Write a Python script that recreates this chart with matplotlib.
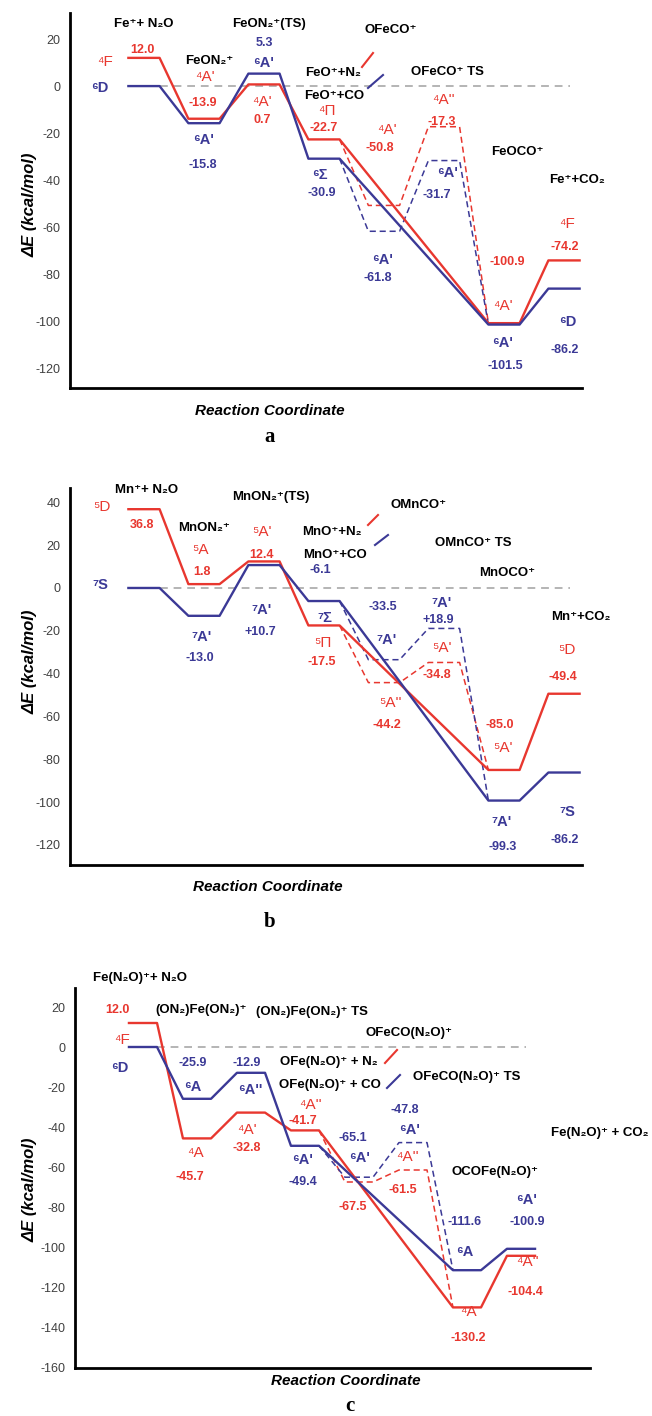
import matplotlib
matplotlib.use("Agg")
import matplotlib.pyplot as plt
from matplotlib.lines import Line2D

W, H = 652, 1416
RED = "#e8372f"
BLUE = "#3b3996"
GRAY = "#b4b4b4"
SANS = ["Liberation Sans", "DejaVu Sans"]
plt.rcParams["font.family"] = SANS

# ---------------- data ----------------
# reaction-coordinate stage of each solid level; dashed (alternative path) stages
solid_stages = [0, 1, 2, 3, 6, 7]
dash_stages = [4, 5]

# (a) Fe+ + N2O + CO
a_red = [12.0, -13.9, 0.7, -22.7, -100.9, -74.2]      # quartet
a_blue = [0.0, -15.8, 5.3, -30.9, -101.5, -86.2]      # sextet
a_red_dash = [-50.8, -17.3]
a_blue_dash = [-61.8, -31.7]
a_species = ["Fe⁺+ N₂O", "FeON₂⁺(TS)", "FeON₂⁺", "OFeCO⁺", "FeO⁺+N₂",
             "FeO⁺+CO", "OFeCO⁺ TS", "FeOCO⁺", "Fe⁺+CO₂"]
a_red_states = ["⁴F", "⁴A'", "⁴A'", "⁴Π", "⁴A'", "⁴A''", "⁴A'", "⁴F"]
a_blue_states = ["⁶D", "⁶A'", "⁶A'", "⁶Σ", "⁶A'", "⁶A'", "⁶A'", "⁶D"]

# (b) Mn+ + N2O + CO
b_red = [36.8, 1.8, 12.4, -17.5, -85.0, -49.4]        # quintet
b_blue = [0.0, -13.0, 10.7, -6.1, -99.3, -86.2]       # septet
b_red_dash = [-44.2, -34.8]
b_blue_dash = [-33.5, -18.9]
b_blue_text = ["", "-13.0", "+10.7", "-6.1", "-99.3", "-86.2"]
b_blue_dash_text = ["-33.5", "+18.9"]
b_species = ["Mn⁺+ N₂O", "MnON₂⁺(TS)", "MnON₂⁺", "OMnCO⁺", "MnO⁺+N₂",
             "MnO⁺+CO", "OMnCO⁺ TS", "MnOCO⁺", "Mn⁺+CO₂"]
b_red_states = ["⁵D", "⁵A", "⁵A'", "⁵Π", "⁵A''", "⁵A'", "⁵A'", "⁵D"]
b_blue_states = ["⁷S", "⁷A'", "⁷A'", "⁷Σ", "⁷A'", "⁷A'", "⁷A'", "⁷S"]

# (c) Fe(N2O)+ + N2O + CO
c_red = [12.0, -45.7, -32.8, -41.7, -130.2, -104.4]   # quartet
c_blue = [0.0, -25.9, -12.9, -49.4, -111.6, -100.9]   # sextet
c_red_dash = [-67.5, -61.5]
c_blue_dash = [-65.1, -47.8]
c_species = ["Fe(N₂O)⁺+ N₂O", "(ON₂)Fe(ON₂)⁺", "(ON₂)Fe(ON₂)⁺ TS", "OFeCO(N₂O)⁺",
             "OFe(N₂O)⁺ + N₂", "OFe(N₂O)⁺ + CO", "OFeCO(N₂O)⁺ TS", "OCOFe(N₂O)⁺",
             "Fe(N₂O)⁺ + CO₂"]
c_red_states = ["⁴F", "⁴A", "⁴A'", "⁴A''", "⁴A''", "⁴A", "⁴A''"]
c_blue_states = ["⁶D", "⁶A", "⁶A''", "⁶A'", "⁶A'", "⁶A'", "⁶A", "⁶A'"]

# ---------------- layout (pixel positions of labels) ----------------
a_species_pos = [(144, 24), (269, 24), (209, 61), (391, 30), (333, 73),
                 (334, 96), (447, 72), (517, 152), (577, 180)]
a_red_state_pos = [(105, 62), (205, 77), (262, 102), (327, 111), (387, 130),
                   (443, 100), (503, 306), (567, 224)]
a_blue_state_pos = [(100, 88), (204, 140), (264, 63), (320, 175), (383, 260),
                    (448, 173), (503, 343), (568, 322)]
a_red_val_pos = [(142, 50), (203, 103), (262, 120), (324, 128), (507, 262), (565, 247)]
a_blue_val_pos = [None, (203, 165), (264, 43), (322, 193), (505, 366), (565, 350)]
a_red_dash_pos = [(380, 148), (442, 122)]
a_blue_dash_pos = [(378, 278), (437, 195)]

b_species_pos = [(147, 490), (271, 497), (204, 528), (419, 505), (332, 532),
                 (335, 555), (473, 543), (507, 573), (581, 617)]
b_red_state_pos = [(102, 507), (200, 550), (262, 532), (323, 643), (390, 703),
                   (442, 648), (503, 748), (567, 650)]
b_blue_state_pos = [(100, 585), (202, 637), (262, 610), (325, 618), (387, 640),
                    (442, 603), (502, 822), (567, 812)]
b_red_val_pos = [(142, 525), (202, 572), (261, 555), (322, 662), (500, 725), (563, 677)]
b_blue_val_pos = [None, (200, 658), (260, 632), (320, 570), (503, 847), (565, 840)]
b_red_dash_pos = [(387, 725), (437, 675)]
b_blue_dash_pos = [(383, 607), (438, 620)]

c_species_pos = [(140, 978), (201, 1010), (312, 1012), (409, 1033), (329, 1062),
                 (330, 1085), (467, 1077), (495, 1172), (600, 1133)]
c_red_state_pos = [(122, 1040), (195, 1153), (247, 1130), (310, 1105),
                   (407, 1157), (468, 1312), (527, 1262)]
c_blue_state_pos = [(120, 1068), (193, 1087), (250, 1090), (303, 1160),
                    (360, 1158), (410, 1130), (465, 1252), (527, 1200)]
c_red_val_pos = [(117, 1010), (190, 1177), (247, 1148), (303, 1121), (468, 1338), (525, 1292)]
c_blue_val_pos = [None, (193, 1063), (247, 1063), (303, 1182), (465, 1222), (527, 1222)]
c_red_dash_pos = [(353, 1207), (403, 1190)]
c_blue_dash_pos = [(353, 1138), (405, 1110)]

fig = plt.figure(figsize=(W / 100, H / 100), dpi=100)


def fpos(x, y):
    return x / W, 1 - y / H


def put(x, y, s, color="black", size=9, weight="bold", **kw):
    fig.text(*fpos(x, y), s, color=color, fontsize=size, fontweight=weight,
             ha="center", va="center", family=SANS, **kw)


def add_panel(l, r, t, b, xlim, ylim, yticks):
    ax = fig.add_axes([l / W, 1 - b / H, (r - l) / W, (b - t) / H])
    ax.set_xlim(*xlim)
    ax.set_ylim(*ylim)
    for s in ("top", "right"):
        ax.spines[s].set_visible(False)
    for s in ("left", "bottom"):
        ax.spines[s].set_linewidth(2.0)
    ax.set_xticks([])
    ax.set_yticks(yticks)
    ax.set_yticklabels([str(v) for v in yticks])
    ax.tick_params(axis="y", length=0, pad=7, labelsize=9, labelcolor="#404040")
    ax.patch.set_alpha(0)
    return ax


def level_path(stages, values, hw):
    xs, ys = [], []
    for s, v in zip(stages, values):
        xs += [s - hw, s + hw]
        ys += [v, v]
    return xs, ys


def draw(ax, red, blue, red_d, blue_d, hw=0.26):
    ax.plot([hw, 7.1], [0, 0], ls=(0, (4, 3)), color=GRAY, lw=1.4, zorder=1)
    for vals, dvals, c in ((red, red_d, RED), (blue, blue_d, BLUE)):
        pv = [vals[3]] + dvals + [vals[4]]
        xs, ys = level_path([3] + dash_stages + [6], pv, hw)
        ax.plot(xs[1:-1], ys[1:-1], color=c, lw=1.1, ls=(0, (4, 2.5)), zorder=2)
    for vals, c in ((red, RED), (blue, BLUE)):
        xs, ys = level_path(solid_stages, vals, hw)
        ax.plot(xs, ys, color=c, lw=1.7, zorder=3)


def labels(species, sp_pos, rst, rst_pos, bst, bst_pos,
           red, red_pos, blue, blue_pos, red_d, red_d_pos, blue_d, blue_d_pos,
           blue_text=None, blue_d_text=None):
    for s, (x, y) in zip(species, sp_pos):
        put(x, y, s, "black", 9.5)
    for s, (x, y) in zip(rst, rst_pos):
        put(x, y, s, RED, 11, weight="normal")
    for s, (x, y) in zip(bst, bst_pos):
        put(x, y, s, BLUE, 10.5)
    for v, p in zip(red, red_pos):
        put(*p, f"{v:.1f}", RED, 9)
    for i, (v, p) in enumerate(zip(blue, blue_pos)):
        if p is None:
            continue
        put(*p, blue_text[i] if blue_text else f"{v:.1f}", BLUE, 9)
    for v, p in zip(red_d, red_d_pos):
        put(*p, f"{v:.1f}", RED, 9)
    for i, (v, p) in enumerate(zip(blue_d, blue_d_pos)):
        put(*p, blue_d_text[i] if blue_d_text else f"{v:.1f}", BLUE, 9)


def slash(x0, y0, x1, y1, color):
    fig.add_artist(Line2D([x0 / W, x1 / W], [1 - y0 / H, 1 - y1 / H],
                          transform=fig.transFigure, color=color, lw=1.5))


# ---- panel a ----
ax_a = add_panel(70, 582, 13, 388, (-1.233, 7.3), (-128.5, 31.1),
                 [20, 0, -20, -40, -60, -80, -100, -120])
draw(ax_a, a_red, a_blue, a_red_dash, a_blue_dash)
labels(a_species, a_species_pos, a_red_states, a_red_state_pos,
       a_blue_states, a_blue_state_pos, a_red, a_red_val_pos, a_blue, a_blue_val_pos,
       a_red_dash, a_red_dash_pos, a_blue_dash, a_blue_dash_pos)
slash(362, 67, 373, 53, RED)
slash(368, 88, 383, 75, BLUE)

# ---- panel b ----
ax_b = add_panel(70, 582, 488, 865, (-1.233, 7.3), (-129.4, 46.7),
                 [40, 20, 0, -20, -40, -60, -80, -100, -120])
draw(ax_b, b_red, b_blue, b_red_dash, b_blue_dash)
labels(b_species, b_species_pos, b_red_states, b_red_state_pos,
       b_blue_states, b_blue_state_pos, b_red, b_red_val_pos, b_blue, b_blue_val_pos,
       b_red_dash, b_red_dash_pos, b_blue_dash, b_blue_dash_pos,
       blue_text=b_blue_text, blue_d_text=b_blue_dash_text)
slash(368, 525, 378, 515, RED)
slash(375, 545, 388, 535, BLUE)

# ---- panel c ----
ax_c = add_panel(75, 590, 988, 1368, (-1.259, 8.278), (-160.5, 29.5),
                 [20, 0, -20, -40, -60, -80, -100, -120, -140, -160])
draw(ax_c, c_red, c_blue, c_red_dash, c_blue_dash)
labels(c_species, c_species_pos, c_red_states, c_red_state_pos,
       c_blue_states, c_blue_state_pos, c_red, c_red_val_pos, c_blue, c_blue_val_pos,
       c_red_dash, c_red_dash_pos, c_blue_dash, c_blue_dash_pos)
slash(385, 1063, 397, 1050, RED)
slash(387, 1088, 400, 1075, BLUE)

# axis titles and panel letters
for yc in (205, 662, 1190):
    put(30, yc, "ΔE (kcal/mol)", "black", 12, rotation=90, style="italic")
for xc, yc in ((270, 411), (268, 887), (346, 1381)):
    put(xc, yc, "Reaction Coordinate", "black", 11, style="italic")
for s, (xc, yc) in zip("abc", ((270, 437), (270, 922), (350, 1406))):
    fig.text(*fpos(xc, yc), s, fontsize=15, fontweight="bold", ha="center",
             va="center", family=["Liberation Serif", "DejaVu Serif"])

fig.savefig("out.png", dpi=100)
